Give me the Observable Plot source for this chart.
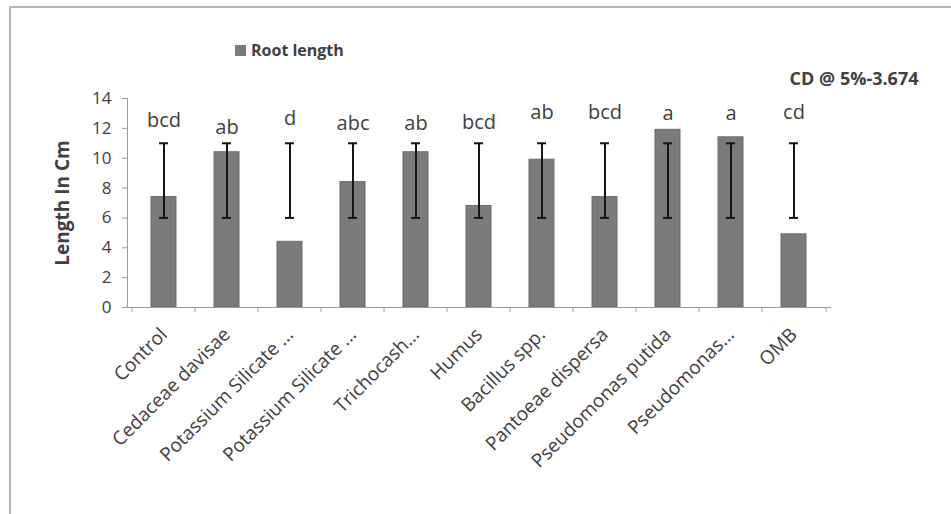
<!DOCTYPE html>
<html><head><meta charset="utf-8">
<script src="https://cdn.jsdelivr.net/npm/d3@7"></script>
<script src="https://cdn.jsdelivr.net/npm/@observablehq/plot@0.6"></script>
<style>
body{margin:0;background:#fff;}
#wrap{position:relative;width:951px;height:514px;overflow:hidden;font-family:"Open Sans",sans-serif;}
#chart{position:absolute;left:0;top:0;}
#border{position:absolute;left:9px;top:6px;width:980px;height:540px;border:2px solid #b4b4b4;box-sizing:border-box;}
#legend{position:absolute;left:235px;top:39px;font-weight:bold;font-size:16px;line-height:22px;color:#404040;display:flex;align-items:center;}
.sw{display:inline-block;width:11px;height:11px;background:#7a7a7a;margin-right:5px;}
</style></head><body>
<div id="wrap"><div id="chart"></div><div id="border"></div><div id="legend"><span class="sw"></span><span id="legtext"></span></div></div>
<script>
const categories = ["Control","Cedaceae davisae","Potassium Silicate ...","Potassium Silicate ...\u200b","Trichocash...","Humus","Bacillus spp.","Pantoeae dispersa","Pseudomonas putida","Pseudomonas...","OMB"];
const rootLength = [7.4, 10.4, 4.4, 8.4, 10.4, 6.8, 9.9, 7.4, 11.9, 11.4, 4.9];
const errLow  = [6, 6, 6, 6, 6, 6, 6, 6, 6, 6, 6];
const errHigh = [11, 11, 11, 11, 11, 11, 11, 11, 11, 11, 11];
const letters = ["bcd","ab","d","abc","ab","bcd","ab","bcd","a","a","cd"];
const letterAt = [12.5, 12.05, 12.65, 12.35, 12.35, 12.4, 13.05, 13.05, 13.0, 13.0, 13.05];
const yTicks = [0, 2, 4, 6, 8, 10, 12, 14];
const seriesName = "Root length";
const cdNote = "CD @ 5%-3.674";
const yTitle = "Length In Cm";

const data = categories.map((name, i) => ({
  name, value: rootLength[i], lo: errLow[i], hi: errHigh[i], letter: letters[i], at: letterAt[i]
}));

document.getElementById("legtext").textContent = seriesName;

const W = 951, H = 514, ML = 127, MR = 121, MT = 98, MB = 207;
const step = (W - ML - MR) / categories.length;
const ink = "#404040", axisGray = "#9a9a9a";

const plot = Plot.plot({
  width: W, height: H,
  marginLeft: ML, marginRight: MR, marginTop: MT, marginBottom: MB,
  style: {fontFamily: "Open Sans", fontSize: "17px", color: ink, background: "transparent"},
  x: {type: "band", domain: categories, paddingInner: 0.6, paddingOuter: 0.3, label: null},
  y: {domain: [0, 14], label: null},
  marks: [
    Plot.barY(data, {x: "name", y: "value", fill: "#7b7b7b", stroke: "#6b6b6b", strokeWidth: 1}),
    Plot.frame({anchor: "left", stroke: axisGray}),
    Plot.frame({anchor: "bottom", stroke: axisGray}),
    Plot.ruleX(categories, {x: d => d, y1: 0, y2: -0.33, dx: -step / 2, stroke: axisGray}),
    Plot.ruleX([categories[categories.length - 1]], {x: d => d, y1: 0, y2: -0.33, dx: step / 2, stroke: axisGray}),
    Plot.axisY({ticks: yTicks, tickSize: 5, tickPadding: 11, fontSize: 17, stroke: axisGray, fill: ink, label: null}),
    Plot.axisX({tickRotate: -45, tickSize: 0, tickPadding: 24, fontSize: 19, fill: ink, label: null,
      tickFormat: d => d.replace("\u200b", "")}),
    Plot.ruleX(data, {x: "name", y1: "lo", y2: "hi", stroke: "#151515", strokeWidth: 2}),
    Plot.tickY(data, {x: "name", y: "lo", insetLeft: 8, insetRight: 8, stroke: "#151515", strokeWidth: 2}),
    Plot.tickY(data, {x: "name", y: "hi", insetLeft: 8, insetRight: 8, stroke: "#151515", strokeWidth: 2}),
    Plot.text(data, {x: "name", y: "at", text: "letter", fontSize: 20, fill: ink}),
    Plot.text([yTitle], {frameAnchor: "left", dx: -65, rotate: -90, textAnchor: "middle", fontWeight: "bold", fontSize: 19, fill: ink}),
    Plot.text([cdNote], {frameAnchor: "top-right", dx: 88, dy: -26, textAnchor: "end", fontWeight: "bold", fontSize: 18, fill: ink})
  ]
});
document.getElementById("chart").appendChild(plot);
</script>
</body></html>
